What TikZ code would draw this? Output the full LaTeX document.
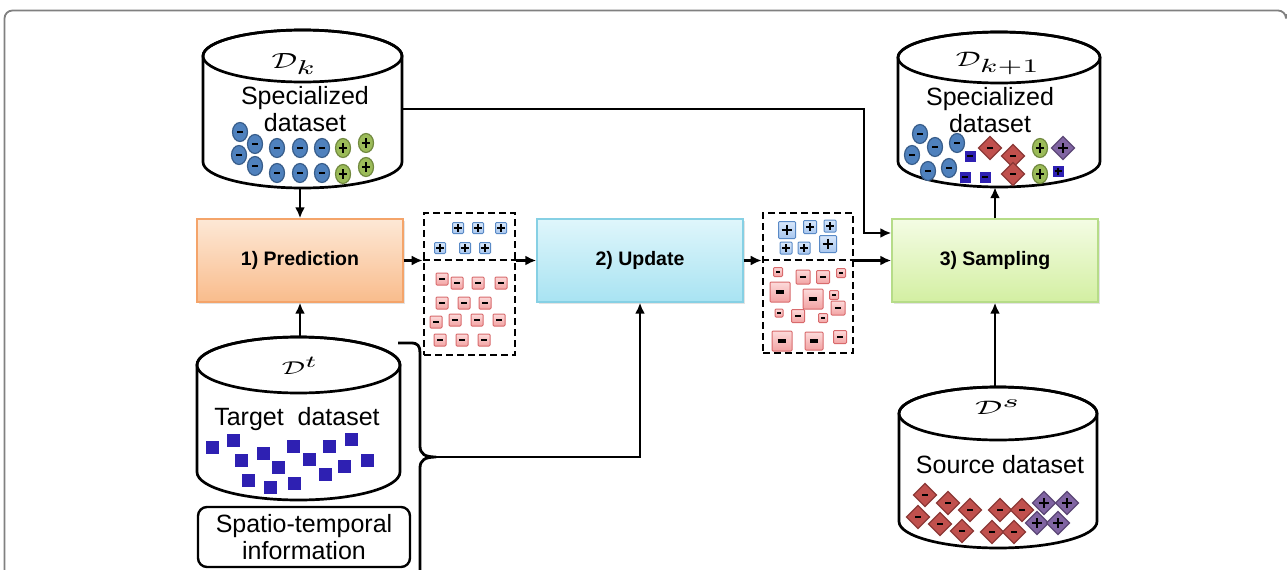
\documentclass[tikz,border=0pt]{standalone}
\usepackage{fontspec}
\usepackage{graphicx}
\setmainfont{Liberation Sans}
\usetikzlibrary{arrows.meta,shadows}

\definecolor{ellblue}{HTML}{4F81BD}
\definecolor{ellblueE}{HTML}{385D8A}
\definecolor{ellgreen}{HTML}{9BBB59}
\definecolor{ellgreenE}{HTML}{71893F}
\definecolor{diared}{HTML}{C0504D}
\definecolor{diaredE}{HTML}{8C3836}
\definecolor{diapur}{HTML}{8064A2}
\definecolor{diapurE}{HTML}{5C4776}
\definecolor{navysq}{HTML}{2E20B2}
\definecolor{pinkT}{HTML}{FCDADA}
\definecolor{pinkB}{HTML}{F2A3A3}
\definecolor{pinkE}{HTML}{D86A6C}
\definecolor{lbT}{HTML}{D8E7FA}
\definecolor{lbB}{HTML}{A8C6EE}
\definecolor{lbE}{HTML}{5A8AC6}
\definecolor{predT}{HTML}{FDE8D6}
\definecolor{predB}{HTML}{F9BC8C}
\definecolor{predE}{HTML}{F4A46A}
\definecolor{updT}{HTML}{DFF6FB}
\definecolor{updB}{HTML}{A8E3F2}
\definecolor{updE}{HTML}{86D0E4}
\definecolor{sampT}{HTML}{F4FCE4}
\definecolor{sampB}{HTML}{D3EFA2}
\definecolor{sampE}{HTML}{B6DC88}
\definecolor{framegray}{HTML}{808080}

% database drum: centre x, top-ellipse y, bottom-ellipse y, x radius, y radius
\newcommand\dbdrum[5]{%
  \filldraw[fill=white,line width=2.7pt]
    ({#1-#4},#2) -- ({#1-#4},#3)
    arc[start angle=180,end angle=0,x radius=#4,y radius=#5]
    -- ({#1+#4},#2)
    arc[start angle=0,end angle=-180,x radius=#4,y radius=#5] -- cycle;
  \draw[line width=2.7pt] (#1,#2) ellipse[x radius=#4,y radius=#5];}

% pink square with a minus bar: x, y, side
\newcommand\negsq[3]{%
  \shadedraw[top color=pinkT,bottom color=pinkB,draw=pinkE,line width=1pt,rounded corners=1pt]
    ({#1-#3/2},{#2-#3/2}) rectangle ({#1+#3/2},{#2+#3/2});
  \draw[line width=0.18pt*#3] ({#1-0.22*#3},#2) -- ({#1+0.22*#3},#2);}

% light blue square with a plus: x, y, side
\newcommand\possq[3]{%
  \shadedraw[top color=lbT,bottom color=lbB,draw=lbE,line width=1pt,rounded corners=1pt]
    ({#1-#3/2},{#2-#3/2}) rectangle ({#1+#3/2},{#2+#3/2});
  \draw[line width=0.17pt*#3] ({#1-0.32*#3},#2) -- ({#1+0.32*#3},#2)
    (#1,{#2-0.32*#3}) -- (#1,{#2+0.32*#3});}

% dark blue squares
\newcommand\navyblk[2]{%
  \fill[navysq] ({#1-6.5},{#2-6.5}) rectangle ({#1+6.5},{#2+6.5});}
\newcommand\navyneg[2]{%
  \fill[navysq] ({#1-5.5},{#2-5.5}) rectangle ({#1+5.5},{#2+5.5});
  \draw[line width=2.4pt] ({#1-3},#2) -- ({#1+3},#2);}
\newcommand\navypos[2]{%
  \fill[navysq] ({#1-5.5},{#2-5.5}) rectangle ({#1+5.5},{#2+5.5});
  \draw[line width=2.2pt] ({#1-3.5},#2) -- ({#1+3.5},#2) (#1,{#2-3.5}) -- (#1,{#2+3.5});}

% ovals
\newcommand\negell[2]{%
  \filldraw[fill=ellblue,draw=ellblueE,line width=1.2pt] (#1,#2) ellipse[x radius=7.5,y radius=9.5];
  \draw[line width=2.6pt] ({#1-2.8},#2) -- ({#1+2.8},#2);}
\newcommand\posell[2]{%
  \filldraw[fill=ellgreen,draw=ellgreenE,line width=1.2pt] (#1,#2) ellipse[x radius=7.5,y radius=9.5];
  \draw[line width=2.5pt] ({#1-4.2},#2) -- ({#1+4.2},#2) (#1,{#2-4.7}) -- (#1,{#2+4.7});}

% diamonds
\newcommand\negdia[2]{%
  \filldraw[fill=diared,draw=diaredE,line width=1.2pt]
    ({#1-11.5},#2) -- (#1,{#2-11.5}) -- ({#1+11.5},#2) -- (#1,{#2+11.5}) -- cycle;
  \draw[line width=2.5pt] ({#1-2.8},#2) -- ({#1+2.8},#2);}
\newcommand\posdia[2]{%
  \filldraw[fill=diapur,draw=diapurE,line width=1.2pt]
    ({#1-11.5},#2) -- (#1,{#2-11.5}) -- ({#1+11.5},#2) -- (#1,{#2+11.5}) -- cycle;
  \draw[line width=2.5pt] ({#1-4.7},#2) -- ({#1+4.7},#2) (#1,{#2-4.7}) -- (#1,{#2+4.7});}

% enlarged subscript letter
\newcommand\bigidx[1]{\scalebox{1.3}{$\scriptstyle #1$}}

\begin{document}
\begin{tikzpicture}[x=1pt,y=-1pt,
  arr/.style={line width=2.8pt,-{Latex[length=11pt,width=10pt]}},
  link/.style={line width=2.8pt},
  stepbox/.style={minimum width=206pt,minimum height=83pt,inner sep=0pt,line width=1.4pt,
    font=\fontsize{19.5}{22}\selectfont\bfseries,
    drop shadow={opacity=0.22,shadow xshift=2pt,shadow yshift=-2pt}},
  holder/.style={draw=none,inner sep=0pt},
  dashbox/.style={draw,line width=2.6pt,dash pattern=on 7pt off 4pt,inner sep=0pt},
  drumtext/.style={font=\fontsize{25}{27}\selectfont,align=center,inner sep=0pt},
  drumlabel/.style={font=\normalsize,inner sep=0pt}]
\useasboundingbox (0,0) rectangle (1288,570);

% outer frame
\draw[framegray,line width=1.8pt,rounded corners=8pt] (4.5,575) -- (4.5,10.5) -- (1286,10.5) -- (1286,14);

% databases
\dbdrum{302.5}{56}{162}{99.5}{26}
\dbdrum{999}{57.5}{161.5}{101}{25.5}
\dbdrum{298.5}{365}{472}{101.5}{28}
\dbdrum{998}{413.5}{521.5}{99}{26.5}

\node[holder,minimum width=199pt,minimum height=158pt] (dk) at (302.5,109) {};
\node[holder,minimum width=202pt,minimum height=155pt] (dkn) at (999,109.5) {};
\node[holder,minimum width=203pt,minimum height=163pt] (dt) at (298.5,418.5) {};
\node[holder,minimum width=198pt,minimum height=161pt] (ds) at (998,467.5) {};

\node[drumlabel] (dklab) at (294,64) {\scalebox{3.2}[2.2]{$\mathcal{D}_{\bigidx{k}}$}};
\node[drumlabel] (dknlab) at (998,63) {\scalebox{3.1}[2.1]{$\mathcal{D}_{\bigidx{k+1}}$}};
\node[drumlabel] (dtlab) at (300,366) {\scalebox{2.9}[1.85]{$\mathcal{D}^{\bigidx{t}}$}};
\node[drumlabel] (dslab) at (998,407) {\scalebox{3.4}[1.95]{$\mathcal{D}^{\bigidx{s}}$}};

\node[drumtext] (dktxt) at (305,109.5) {Specialized\\dataset};
\node[drumtext] (dkntxt) at (990,110) {Specialized\\dataset};
\node[drumtext] (dttxt) at (297,419) {Target\ \ dataset};
\node[drumtext] (dstxt) at (1000,465) {Source dataset};

% items of the current specialized set
\negell{240}{132}\negell{255}{144}\negell{239}{155}\negell{255}{166}
\negell{277}{148}\negell{277}{173}\negell{300}{148}\negell{300}{173}
\negell{322}{148}\negell{322}{173}
\posell{343}{148}\posell{343}{174}\posell{366}{143}\posell{366}{167}

% items of the next specialized set
\negell{920}{134}\negell{912}{155}\negell{935}{147}\negell{928}{171}
\negell{957}{143}\negell{949}{168}
\navyneg{970}{156}\navyneg{965}{177}\navyneg{985}{177}
\negdia{990}{148}\negdia{1013}{156}\negdia{1013}{174}
\posell{1040}{148}\posell{1040}{174}
\posdia{1063}{148}
\navypos{1058}{171}

% target samples
\navyblk{212}{447}\navyblk{233}{440}\navyblk{241}{460}\navyblk{263}{453}
\navyblk{278}{467}\navyblk{293}{446}\navyblk{248}{480}\navyblk{270}{487}
\navyblk{294}{483}\navyblk{309}{459}\navyblk{329}{446}\navyblk{351}{439}
\navyblk{325}{474}\navyblk{344}{466}\navyblk{367}{460}

% source samples
\negdia{925}{495}\negdia{948}{503}\negdia{970}{510}\negdia{918}{517}
\negdia{940}{524}\negdia{962}{531}\negdia{1000}{510}\negdia{1022}{510}
\negdia{992}{532}\negdia{1014}{532}
\posdia{1044}{503}\posdia{1067}{503}\posdia{1037}{523}\posdia{1058}{523}

% spatio-temporal information
\node[draw,line width=2.4pt,rounded corners=9pt,minimum width=212pt,minimum height=60pt,
  inner sep=0pt,font=\fontsize{25}{27}\selectfont,align=center] (stinfo) at (304,537)
  {Spatio-temporal\\information};

% processing steps
\node[stepbox,draw=predE,top color=predT,bottom color=predB] (pred) at (300,260.5) {1) Prediction};
\node[stepbox,draw=updE,top color=updT,bottom color=updB] (upd) at (640,260.5) {2) Update};
\node[stepbox,draw=sampE,top color=sampT,bottom color=sampB] (samp) at (995,260.5) {3) Sampling};

% predicted labels
\node[dashbox,minimum width=91pt,minimum height=142pt] (lab1) at (469.5,284) {};
\draw[line width=2.6pt,dash pattern=on 7pt off 4pt] (lab1.west |- 0,260) -- (lab1.east |- 0,260);
\possq{458}{228}{11}\possq{478}{228}{11}\possq{501}{228}{11}
\possq{440}{248}{11}\possq{465}{248}{11}\possq{485}{248}{11}
\negsq{442}{279}{12}\negsq{457}{283}{12}\negsq{478}{283}{12}\negsq{501}{283}{12}
\negsq{442}{303}{12}\negsq{464}{303}{12}\negsq{485}{303}{12}
\negsq{436}{322}{12}\negsq{455}{320}{12}\negsq{477}{320}{12}\negsq{499}{320}{12}
\negsq{440}{340}{12}\negsq{462}{340}{12}\negsq{484}{340}{12}

% updated labels with weights
\node[dashbox,minimum width=90pt,minimum height=140pt] (lab2) at (808,283) {};
\draw[line width=2.6pt,dash pattern=on 7pt off 4pt] (lab2.west |- 0,260) -- (lab2.east |- 0,260);
\possq{787}{230}{17}\possq{810}{227}{13}\possq{830}{226}{12}
\possq{786}{248}{12}\possq{804}{248}{12}\possq{828}{244}{17}
\negsq{778}{272}{9}\negsq{803}{277}{14}\negsq{823}{277}{13}\negsq{841}{273}{9}
\negsq{780}{292}{20}\negsq{813}{299}{20}\negsq{834}{295}{9}\negsq{838}{308}{14}
\negsq{779}{313}{8}\negsq{798}{316}{13}\negsq{823}{318}{9}
\negsq{782}{341}{20}\negsq{814}{341}{18}\negsq{840}{337}{13}

% connectors
\draw[arr] (pred.north |- dk.south) -- (pred.north);
\draw[arr] (pred.south |- dt.north) -- (pred.south);
\draw[arr] (pred.east) -- (pred.east -| lab1.west);
\draw[arr] (upd.west -| lab1.east) -- (upd.west);
\draw[arr] (upd.east) -- (upd.east -| lab2.west);
\draw[arr] (samp.west -| lab2.east) -- (samp.west);
\coordinate (bend) at (864,233);
\draw[arr] (dk.east) -| (bend) -- (bend -| samp.west);
\draw[arr] (samp.north) -- (samp.north |- dkn.south);
\draw[arr] (samp.south |- ds.north) -- (samp.south);

% brace grouping the target data and its spatio-temporal information
\coordinate (btip) at (436,457);
\draw[link,line join=round]
  (398,343) -- (411,343) .. controls (418,343) and (420,346) .. (420,353)
  -- (420,446) .. controls (420,454) and (425,457) .. (btip)
  .. controls (425,457) and (420,460) .. (420,468) -- (420,575);
\draw[arr] (btip) -| (upd.south);
\end{tikzpicture}
\end{document}
